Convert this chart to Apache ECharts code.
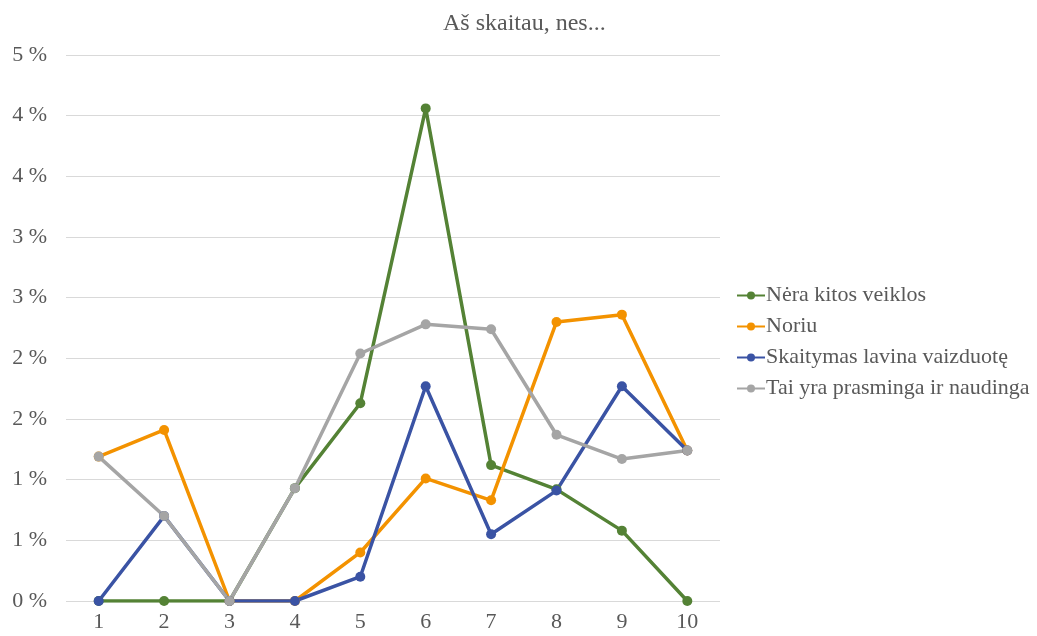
<!DOCTYPE html>
<html>
<head>
<meta charset="utf-8">
<script src="https://cdn.jsdelivr.net/npm/echarts@6/dist/echarts.min.js"></script>
<style>
  html, body { margin: 0; padding: 0; background: #fff; }
  #chart { width: 1037px; height: 636px; }
</style>
</head>
<body>
<div id="chart"></div>
<script>
const categories = ["1", "2", "3", "4", "5", "6", "7", "8", "9", "10"];
const seriesNames = ["Nėra kitos veiklos", "Noriu", "Skaitymas lavina vaizduotę", "Tai yra prasminga ir naudinga"];
const neraKitosVeiklos = [0, 0, 0, 0.93, 1.63, 4.06, 1.12, 0.92, 0.58, 0];
const noriu = [1.19, 1.41, 0, 0, 0.40, 1.01, 0.83, 2.30, 2.36, 1.24];
const skaitymasLavina = [0, 0.70, 0, 0, 0.20, 1.77, 0.55, 0.91, 1.77, 1.24];
const prasmingaNaudinga = [1.19, 0.70, 0, 0.93, 2.04, 2.28, 2.24, 1.37, 1.17, 1.24];
const colors = ["#548235", "#f39200", "#3a53a4", "#a5a5a5"];

const allData = [neraKitosVeiklos, noriu, skaitymasLavina, prasmingaNaudinga];
const font = "'Liberation Serif', 'Times New Roman', serif";

const chart = echarts.init(document.getElementById("chart"));
chart.setOption({
    animation: false,
    title: {
        text: "Aš skaitau, nes...",
        left: 438, top: 7,
        textStyle: { fontFamily: font, fontSize: 24, fontWeight: "normal", color: "#595959" }
    },
    legend: {
        orient: "vertical",
        left: 731, top: 279,
        itemGap: 8,
        itemWidth: 28, itemHeight: 10,
        data: seriesNames,
        textStyle: { fontFamily: font, fontSize: 22, lineHeight: 23, color: "#595959", padding: [0, 0, 0, -4] }
    },
    grid: { left: 66, right: 317, top: 55, bottom: 35, containLabel: false },
    xAxis: {
        type: "category",
        data: categories,
        boundaryGap: true,
        axisLine: { show: false },
        axisTick: { show: false },
        axisLabel: { fontFamily: font, fontSize: 22, color: "#595959", margin: 10 }
    },
    yAxis: {
        type: "value",
        min: 0, max: 4.5, interval: 0.5,
        axisLine: { show: false },
        axisTick: { show: false },
        splitLine: { lineStyle: { color: "#d9d9d9", width: 1 } },
        axisLabel: {
            fontFamily: font, fontSize: 22, color: "#595959", margin: 19,
            formatter: (v) => Math.round(v) + " %"
        }
    },
    series: seriesNames.map((name, i) => ({
        name,
        type: "line",
        data: allData[i],
        symbol: "circle",
        symbolSize: 10,
        lineStyle: { width: 3.5, color: colors[i] },
        itemStyle: { color: colors[i] }
    }))
});
</script>
</body>
</html>
